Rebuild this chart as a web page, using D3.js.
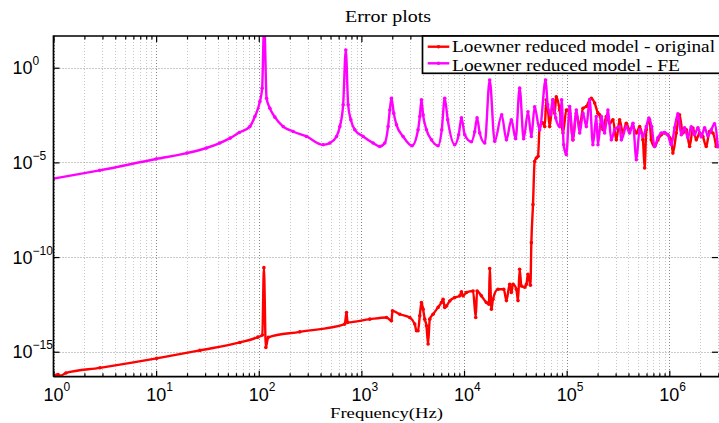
<!DOCTYPE html>
<html>
<head>
<meta charset="utf-8">
<title>Error plots</title>
<script src="https://d3js.org/d3.v7.min.js"></script>
<style>
  body { margin: 0; background: #fff; }
  svg { display: block; }
  .tl { font-family: "Liberation Sans", Arial, sans-serif; font-size: 18px; fill: #000; }
  .tex { font-family: "Liberation Serif", "Times New Roman", serif; fill: #000; }
</style>
</head>
<body>
<svg id="chart" width="719" height="423"></svg>
<script>
// values, given in decades: [log10 f (Hz), log10 error]
const originalErr = [
  [0, -16.26], [0.044, -16.2], [0.063, -16.28], [0.122, -16.12], [0.453, -15.85], [1.005, -15.35],
  [1.426, -14.93], [1.816, -14.51], [1.991, -14.23], [2.035, -14.12], [2.05, -10.56], [2.069, -14.77],
  [2.092, -14.24], [2.4, -13.95], [2.838, -13.54], [2.855, -12.93], [2.865, -13.45], [3.082, -13.28],
  [3.244, -13.19], [3.293, -13.37], [3.303, -12.84], [3.374, -13.02], [3.471, -13.19], [3.52, -13.54],
  [3.537, -13.89], [3.552, -13.89], [3.569, -13.1], [3.585, -12.4], [3.601, -12.75], [3.617, -13.28],
  [3.634, -13.63], [3.65, -14.59], [3.666, -13.28], [3.698, -13.02], [3.747, -12.66], [3.78, -12.4],
  [3.796, -12.23], [3.812, -12.66], [3.829, -12.58], [3.861, -12.32], [3.909, -12.14], [3.958, -12.05],
  [3.975, -11.84], [3.99, -12.05], [4.023, -11.87], [4.088, -11.79], [4.114, -13.19], [4.127, -11.79],
  [4.169, -12.05], [4.218, -12.4], [4.243, -12.49], [4.25, -10.61], [4.267, -12.75], [4.282, -12.23],
  [4.331, -11.7], [4.387, -11.7], [4.413, -12.3], [4.445, -11.44], [4.461, -11.87], [4.477, -11.44],
  [4.51, -11.7], [4.526, -12.3], [4.542, -10.65], [4.559, -11.53], [4.591, -11.59], [4.608, -11.44],
  [4.623, -10.91], [4.647, -11.49], [4.656, -9.24], [4.672, -7.23], [4.688, -4.95], [4.705, -4.77],
  [4.721, -4.68], [4.737, -3.11], [4.766, -2.91], [4.786, -3.11], [4.802, -1.7], [4.818, -2.23],
  [4.834, -3.11], [4.867, -1.7], [4.883, -2.4], [4.899, -1.53], [4.932, -2.23], [4.964, -3.45],
  [4.997, -2.23], [5.029, -2.4], [5.061, -3.81], [5.094, -2.4], [5.127, -3.11], [5.159, -2.14],
  [5.192, -2.05], [5.224, -1.7], [5.24, -1.61], [5.273, -1.87], [5.305, -2.4], [5.321, -2.49],
  [5.354, -3.28], [5.386, -2.58], [5.419, -2.93], [5.451, -2.75], [5.484, -3.81], [5.516, -2.75],
  [5.548, -3.45], [5.581, -2.93], [5.613, -3.28], [5.646, -3.11], [5.679, -3.45], [5.711, -3.11],
  [5.743, -3.81], [5.76, -5.29], [5.776, -3.28], [5.808, -2.75], [5.824, -3.81], [5.857, -4.16],
  [5.889, -3.81], [5.922, -3.54], [5.954, -3.45], [5.986, -3.54], [6.019, -3.81], [6.035, -4.51],
  [6.068, -3.45], [6.1, -2.49], [6.132, -3.45], [6.166, -3.28], [6.198, -4.16], [6.23, -3.19],
  [6.263, -3.81], [6.295, -3.45], [6.327, -3.63], [6.36, -4.16], [6.392, -3.37], [6.425, -3.45],
  [6.457, -4.16]
];

const feErr = [
  [0, -5.86], [0.45, -5.42], [1.0, -4.82], [1.3, -4.51], [1.49, -4.24], [1.62, -3.98], [1.72, -3.72],
  [1.81, -3.42], [1.913, -3.11], [1.962, -2.58], [2.011, -1.79], [2.033, -1.08], [2.053, 2.5],
  [2.076, -1.61], [2.108, -2.14], [2.157, -2.61], [2.238, -3.11], [2.335, -3.37], [2.465, -3.63],
  [2.627, -4.07], [2.692, -3.98], [2.758, -3.63], [2.79, -3.11], [2.822, -1.96], [2.848, 0.93],
  [2.871, -1.96], [2.897, -2.75], [2.936, -3.28], [3.017, -3.63], [3.114, -3.98], [3.179, -4.16],
  [3.228, -3.98], [3.26, -3.11], [3.277, -2.23], [3.293, -1.61], [3.315, -2.4], [3.342, -3.02],
  [3.406, -3.63], [3.494, -4.12], [3.552, -3.28], [3.569, -2.58], [3.585, -1.7], [3.601, -2.49],
  [3.634, -3.28], [3.683, -3.81], [3.747, -4.12], [3.783, -3.28], [3.812, -1.61], [3.841, -2.75],
  [3.909, -4.07], [3.948, -3.54], [3.975, -2.65], [4.007, -3.54], [4.072, -3.91], [4.104, -3.38],
  [4.127, -2.65], [4.153, -3.45], [4.202, -3.98], [4.25, -0.65], [4.299, -3.89], [4.367, -2.49],
  [4.413, -3.81], [4.461, -2.75], [4.503, -3.75], [4.542, -1.08], [4.581, -3.75], [4.623, -2.33],
  [4.656, -3.63], [4.688, -2.07], [4.737, -3.28], [4.795, -0.65], [4.815, -1.96], [4.844, -2.49],
  [4.864, -1.7], [4.893, -2.65], [4.932, -3.11], [4.951, -1.7], [4.971, -4.07], [4.997, -4.59],
  [5.029, -2.05], [5.061, -3.81], [5.094, -2.23], [5.127, -3.45], [5.159, -2.4], [5.192, -3.11],
  [5.224, -1.7], [5.256, -4.07], [5.289, -2.58], [5.305, -4.07], [5.338, -2.58], [5.37, -3.45],
  [5.402, -2.23], [5.435, -3.81], [5.467, -3.28], [5.516, -3.11], [5.533, -3.81], [5.581, -3.11],
  [5.613, -3.45], [5.646, -2.93], [5.679, -4.86], [5.711, -3.28], [5.743, -3.63], [5.776, -3.11],
  [5.801, -2.66], [5.828, -3.11], [5.857, -4.16], [5.889, -3.7], [5.922, -3.45], [5.954, -3.42],
  [5.986, -3.54], [6.019, -4.07], [6.052, -3.17], [6.084, -2.44], [6.117, -3.54], [6.149, -3.17],
  [6.181, -3.7], [6.214, -3.12], [6.246, -3.54], [6.279, -3.17], [6.312, -3.65], [6.344, -3.17],
  [6.376, -3.59], [6.409, -3.28], [6.441, -2.96], [6.473, -4.17]
];

const xTickExp = [0, 1, 2, 3, 4, 5, 6];
const yTickExp = [-15, -10, -5, 0];
const legendLabels = ['Loewner reduced model - original', 'Loewner reduced model - FE'];

const colors = ['#ff0000', '#ff00ff'];
const plot = {left: 53.5, right: 719, top: 36, bottom: 376.7};

const svg = d3.select('#chart');

const x = d3.scaleLog()
  .domain([1, 3.05e6])
  .range([plot.left, plot.right]);

const y = d3.scaleLog()
  .domain([4.8e-17, 47.3])
  .range([plot.bottom, plot.top]);

const px = v => Math.round(v) + 0.5;

const majorX = xTickExp.map(e => Math.pow(10, e));
const minorX = [];
xTickExp.forEach(e => {
  for (let k = 2; k <= 9; k++) {
    const v = k * Math.pow(10, e);
    if (v < x.domain()[1]) minorX.push(v);
  }
});
const majorY = yTickExp.map(e => Math.pow(10, e));

////////////////////////////////////////////////////////////
// grid
const grid = svg.append('g');
grid.selectAll('.minor')
  .data(minorX)
  .join('line')
  .attr('x1', d => px(x(d))).attr('x2', d => px(x(d)))
  .attr('y1', plot.top).attr('y2', plot.bottom)
  .attr('stroke', '#c6c6c6')
  .attr('stroke-dasharray', '1,2');

grid.selectAll('.majx')
  .data(majorX)
  .join('line')
  .attr('x1', d => px(x(d))).attr('x2', d => px(x(d)))
  .attr('y1', plot.top).attr('y2', plot.bottom)
  .attr('stroke', '#858585')
  .attr('stroke-dasharray', '1,2');

grid.selectAll('.majy')
  .data(majorY)
  .join('line')
  .attr('x1', plot.left).attr('x2', plot.right)
  .attr('y1', d => px(y(d))).attr('y2', d => px(y(d)))
  .attr('stroke', '#959595')
  .attr('stroke-dasharray', '1,2');

////////////////////////////////////////////////////////////
// series
svg.append('clipPath').attr('id', 'clip')
  .append('rect')
  .attr('x', plot.left).attr('y', plot.top)
  .attr('width', plot.right - plot.left).attr('height', plot.bottom - plot.top);

const line = d3.line()
  .curve(d3.curveMonotoneX)
  .x(d => x(Math.pow(10, d[0])))
  .y(d => y(Math.pow(10, d[1])));

const series = [originalErr, feErr];
const layer = svg.append('g').attr('clip-path', 'url(#clip)');

series.forEach((s, i) => {
  layer.append('path')
    .datum(s)
    .attr('d', line)
    .attr('fill', 'none')
    .attr('stroke', colors[i])
    .attr('stroke-width', 2.4)
    .attr('stroke-linejoin', 'round');

  layer.append('g')
    .selectAll('circle')
    .data(s)
    .join('circle')
    .attr('cx', d => x(Math.pow(10, d[0])))
    .attr('cy', d => y(Math.pow(10, d[1])))
    .attr('r', 1.8)
    .attr('fill', colors[i]);
});

////////////////////////////////////////////////////////////
// axes (ticks point inwards on all four sides)
const axes = svg.append('g');

function tickAxis(axis, tx, ty) {
  const g = axes.append('g')
    .attr('transform', `translate(${tx},${ty})`)
    .call(axis);
  g.select('.domain').remove();
  g.selectAll('.tick line').attr('stroke', '#000').attr('stroke-width', 1.2);
  g.selectAll('.tick text').remove();
}

tickAxis(d3.axisBottom(x).tickValues(majorX).tickSize(-6), 0, plot.bottom);
tickAxis(d3.axisBottom(x).tickValues(minorX).tickSize(-3.5), 0, plot.bottom);
tickAxis(d3.axisTop(x).tickValues(majorX).tickSize(-6), 0, plot.top);
tickAxis(d3.axisTop(x).tickValues(minorX).tickSize(-3.5), 0, plot.top);
tickAxis(d3.axisLeft(y).tickValues(majorY).tickSize(-6), plot.left, 0);
tickAxis(d3.axisRight(y).tickValues(majorY).tickSize(-6), plot.right - 1, 0);

axes.append('path')
  .attr('d', `M${plot.left},${plot.bottom}V${plot.top}H${plot.right + 2}M${plot.left},${plot.bottom}H${plot.right + 2}`)
  .attr('fill', 'none')
  .attr('stroke', '#000')
  .attr('stroke-width', 1.7);

// tick labels 10^n
const xl = svg.append('g');
xTickExp.forEach(e => {
  const t = xl.append('text')
    .attr('class', 'tl')
    .attr('x', x(Math.pow(10, e)) - 10)
    .attr('y', 400.5);
  t.append('tspan').text('10');
  t.append('tspan').attr('dy', -9.5).attr('font-size', 12).text(String(e));
});

yTickExp.forEach(e => {
  const t = xl.append('text')
    .attr('class', 'tl')
    .attr('x', 12.5)
    .attr('y', y(Math.pow(10, e)) + 6.5);
  t.append('tspan').text('10');
  t.append('tspan').attr('dy', -9).attr('font-size', 12).text(e < 0 ? '\u2212' + (-e) : String(e));
});

////////////////////////////////////////////////////////////
// title, axis label
svg.append('text')
  .attr('class', 'tex')
  .attr('x', 345).attr('y', 22)
  .attr('font-size', 17)
  .attr('textLength', 86)
  .attr('lengthAdjust', 'spacingAndGlyphs')
  .text('Error plots');

svg.append('text')
  .attr('class', 'tex')
  .attr('x', 330).attr('y', 418)
  .attr('font-size', 15.5)
  .attr('textLength', 113)
  .attr('lengthAdjust', 'spacingAndGlyphs')
  .text('Frequency(Hz)');

////////////////////////////////////////////////////////////
// legend
const leg = svg.append('g');
leg.append('rect')
  .attr('x', 422.5).attr('y', 36)
  .attr('width', 320).attr('height', 37.3)
  .attr('fill', '#fff')
  .attr('stroke', '#000')
  .attr('stroke-width', 1.7);

const legY = [46.7, 63.3];
const legText = [51.7, 70.5];
const legWidth = [263, 228];
legendLabels.forEach((lab, i) => {
  leg.append('line')
    .attr('x1', 427.7).attr('x2', 449.3)
    .attr('y1', legY[i]).attr('y2', legY[i])
    .attr('stroke', colors[i])
    .attr('stroke-width', 2.4);
  leg.append('circle')
    .attr('cx', 438.5).attr('cy', legY[i])
    .attr('r', 1.8)
    .attr('fill', colors[i]);
  leg.append('text')
    .attr('class', 'tex')
    .attr('x', 452).attr('y', legText[i])
    .attr('font-size', 16)
    .attr('textLength', legWidth[i])
    .attr('lengthAdjust', 'spacingAndGlyphs')
    .text(lab);
});
</script>
</body>
</html>
